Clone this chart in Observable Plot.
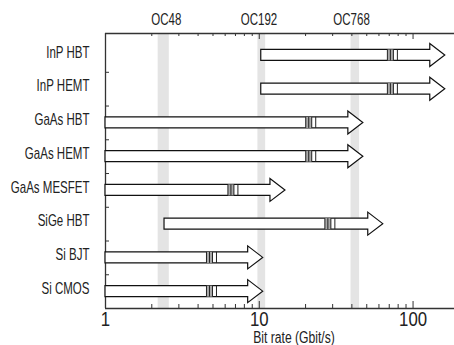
<!DOCTYPE html>
<html>
<head>
<meta charset="utf-8">
<script src="https://cdn.jsdelivr.net/npm/d3@7"></script>
<script src="https://cdn.jsdelivr.net/npm/@observablehq/plot@0.6"></script>
<style>
  html, body { margin: 0; padding: 0; background: #fff; }
  #chart svg { display: block; }
</style>
</head>
<body>
<div id="chart"></div>
<script>
// Technologies, top to bottom
const techs = ["InP HBT", "InP HEMT", "GaAs HBT", "GaAs HEMT", "GaAs MESFET", "SiGe HBT", "Si BJT", "Si CMOS"];
// Arrow start and tip (Gbit/s)
const starts = [10.3, 10.3, 1, 1, 1, 2.42, 1, 1];
const tips = [162, 162, 47.5, 47.5, 14.8, 64, 10.6, 10.6];
// Position of the break marks (Gbit/s)
const breaks = [68.6, 68.6, 20.2, 20.2, 6.3, 26.9, 4.57, 4.57];
// SONET rates (top labels) and gray bands
const ocLabels = ["OC48", "OC192", "OC768"];
const ocRates = [2.488, 9.953, 39.81];
const bandLo = [2.2, 9.8, 39.5];
const bandHi = [2.6, 11.0, 44.9];
// Axis ticks
const majorTicks = [1, 10, 100];
const minorTicks = [2, 3, 4, 5, 6, 7, 8, 9, 20, 30, 40, 50, 60, 70, 80, 90];
const xLabel = "Bit rate (Gbit/s)";

const rows = techs.map((t, i) => ({tech: t, k: techs.length - 1 - i, start: starts[i], tip: tips[i], brk: breaks[i]}));
const bands = ocRates.map((r, i) => ({lo: bandLo[i], hi: bandHi[i]}));
const ocs = ocLabels.map((l, i) => ({label: l, rate: ocRates[i]}));
const rowTicks = d3.range(0.5, techs.length - 1, 1);

const W = 454, H = 345, mL = 105, mR = 0, mT = 33, mB = 37;
const fw = W - mL - mR, fh = H - mT - mB;

function arrows(index, scales) {
  const sx = scales.x, sy = scales.y;
  const g = d3.create("svg:g");
  for (const r of rows) {
    const y = sy(r.k);
    const x0 = sx(r.start), xt = sx(r.tip), xb = xt - 15;
    const bh = 5.5, hh = 11.5;
    g.append("path")
      .attr("d", `M${x0},${y - bh}L${xb},${y - bh}L${xb},${y - hh}L${xt},${y}L${xb},${y + hh}L${xb},${y + bh}L${x0},${y + bh}Z`)
      .attr("fill", "white").attr("stroke", "#111").attr("stroke-width", 1.2);
    const xs = sx(r.brk);
    g.append("rect").attr("x", xs).attr("y", y - bh).attr("width", 6).attr("height", 2 * bh).attr("fill", "#aaa");
    for (const o of [0, 3, 6, 10]) {
      g.append("line").attr("x1", xs + o).attr("x2", xs + o).attr("y1", y - bh).attr("y2", y + bh)
        .attr("stroke", "#222").attr("stroke-width", 1);
    }
  }
  return g.node();
}

const chart = Plot.plot({
  width: W, height: H,
  marginLeft: mL, marginRight: mR, marginTop: mT, marginBottom: mB,
  style: {fontFamily: "'Liberation Sans', Arial, sans-serif", fontSize: "16px", background: "white", color: "#222"},
  x: {type: "log", domain: [1, 186], axis: null},
  y: {domain: [-0.5, 7.65], axis: null},
  marks: [
    Plot.rect(bands, {x1: "lo", x2: "hi", fill: "#e4e4e4"}),
    // frame lines
    Plot.ruleX([1], {stroke: "#333", strokeWidth: 1.3}),
    Plot.ruleY([-0.5, 7.65], {stroke: "#333", strokeWidth: 1.3}),
    // bottom ticks (inward)
    Plot.ruleX(majorTicks, {stroke: "#333", insetTop: fh - 7}),
    Plot.ruleX(minorTicks, {stroke: "#333", insetTop: fh - 4}),
    // top ticks (inward)
    Plot.ruleX(majorTicks, {stroke: "#333", insetBottom: fh - 6}),
    Plot.ruleX(minorTicks, {stroke: "#333", insetBottom: fh - 3}),
    // left ticks between rows
    Plot.ruleY(rowTicks, {stroke: "#333", insetRight: fw - 4}),
    arrows,
    // row labels
    Plot.text(rows, {y: "k", text: "tech", frameAnchor: "left", textAnchor: "end", dx: -16, dy: -3, fontSize: 16, fill: "#222"}),
    // bottom tick labels
    Plot.text(majorTicks, {x: d => d, text: d => String(d), frameAnchor: "bottom", lineAnchor: "middle", dy: 11, fontSize: 21, fill: "#222"}),
    // top OC labels
    Plot.text(ocs, {x: "rate", text: "label", frameAnchor: "top", lineAnchor: "middle", dy: -14, fontSize: 16, fill: "#222"}),
    // x axis label
    Plot.text([xLabel], {text: d => d, frameAnchor: "bottom", lineAnchor: "middle", dy: 29, dx: 14, fontSize: 16, fill: "#222"})
  ]
});

// Narrow the type horizontally around each text's anchor (condensed-face look)
d3.select(chart).selectAll("text").each(function() {
  const t = d3.select(this);
  const s = /^\d+$/.test(this.textContent) ? 0.8 : this.textContent === xLabel ? 0.76 : 0.72;
  const tr = t.attr("transform");
  if (tr && /translate/.test(tr)) {
    t.attr("transform", tr + ` scale(${s},1)`);
  } else {
    const x = +(t.attr("x") || 0), y = +(t.attr("y") || 0);
    t.attr("transform", `translate(${x},${y}) scale(${s},1) translate(${-x},${-y})`);
  }
});

document.getElementById("chart").appendChild(chart);
</script>
</body>
</html>
